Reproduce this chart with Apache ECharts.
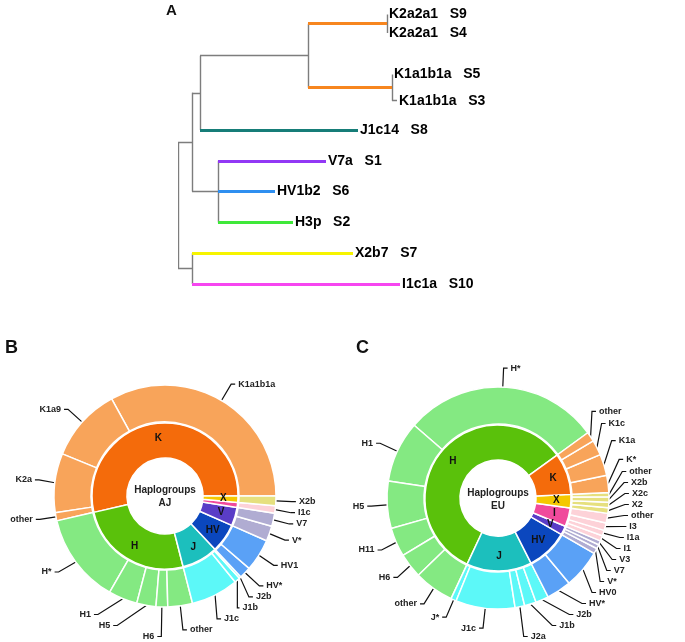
<!DOCTYPE html>
<html>
<head>
<meta charset="utf-8">
<script src="https://cdn.jsdelivr.net/npm/echarts@6/dist/echarts.min.js"></script>
<style>
  html, body { margin: 0; padding: 0; background: #fff; }
  #chart { width: 685px; height: 642px; }
</style>
</head>
<body>
<div id="chart"></div>
<script>
// ---- panel A: tree (node, parent, branch length) ----
const nodeIds      = ['root', 'c1', 'c2', 'c3', 'cK', 'cK2', 'S9', 'S4', 'cK1', 'S5', 'S3', 'S8', 'cV', 'S1', 'S6', 'S2', 'S7', 'S10'];
const nodeParents  = [null, 'root', 'root', 'c1', 'c3', 'cK', 'cK2', 'cK2', 'cK', 'cK1', 'cK1', 'c3', 'c1', 'cV', 'cV', 'cV', 'c2', 'c2'];
const branchLength = [0, 14, 14, 8, 108, 79, 0, 0, 84, 0, 5, 158, 26, 108, 57, 75, 161, 208];
const leafIds      = ['S9', 'S4', 'S5', 'S3', 'S8', 'S1', 'S6', 'S2', 'S7', 'S10'];
const leafHaplo    = ['K2a2a1', 'K2a2a1', 'K1a1b1a', 'K1a1b1a', 'J1c14', 'V7a', 'HV1b2', 'H3p', 'X2b7', 'I1c1a'];
const leafRows     = [0.25, 0.85, 2.2, 3.05, 4, 5, 6, 7, 8, 9];
const branchColors = { cK2: '#f7861f', cK1: '#f7861f', S8: '#167d78', S1: '#9238f5', S6: '#2f8ff0', S2: '#3fe83a', S7: '#f6f400', S10: '#f646f0' };

// ---- panel B: haplogroups AJ (%) ----
const groupsB   = ['K', 'H', 'J', 'HV', 'V', 'I', 'X'];
const subNamesB = [
  ['K1a1b1a', 'K1a9', 'K2a', 'other'],
  ['H*', 'H1', 'H5', 'H6', 'other'],
  ['J1c', 'J1b', 'J2b'],
  ['HV*', 'HV1'],
  ['V*', 'V7'],
  ['I1c'],
  ['X2b']
];
const subValuesB = [
  [33.0, 10.8, 8.6, 1.2],
  [13.1, 4.2, 2.8, 1.7, 3.6],
  [6.9, 0.8, 0.3],
  [1.7, 4.7],
  [2.2, 1.9],
  [1.1],
  [1.4]
];

// ---- panel C: haplogroups EU (%) ----
const groupsC   = ['H', 'J', 'HV', 'V', 'I', 'X', 'K'];
const subNamesC = [
  ['H*', 'H1', 'H5', 'H11', 'H6', 'other'],
  ['J*', 'J1c', 'J2a', 'J1b', 'J2b'],
  ['HV*', 'HV0'],
  ['V*', 'V7', 'V3'],
  ['I1', 'I1a', 'I3', 'other'],
  ['X2', 'X2c', 'X2b', 'other'],
  ['K*', 'K1a', 'K1c', 'other']
];
const subValuesC = [
  [28.6, 8.9, 6.9, 4.2, 3.6, 5.8],
  [0.8, 8.6, 1.4, 1.7, 1.9],
  [3.6, 5.6],
  [0.8, 0.6, 0.6],
  [0.8, 0.8, 1.1, 1.4],
  [0.8, 0.8, 0.8, 0.6],
  [2.5, 3.1, 2.2, 1.4]
];

const innerColor = { K: '#f46b0b', H: '#5ac10b', J: '#1cbfbd', HV: '#0b47be', V: '#5a3dc7', I: '#f04a9c', X: '#f5c800' };
const outerColor = { K: '#f8a45a', H: '#84e982', J: '#5cf8f8', HV: '#5aa1f6', V: '#b0acd2', I: '#fdd2d8', X: '#e6e07e' };

// tree layout: x = distance from root, y = row (internal node = middle of first/last child)
const pos = {};
nodeIds.forEach(function (id, i) {
  const p = nodeParents[i];
  pos[id] = { x: (p ? pos[p].x : 0) + branchLength[i], y: null, kids: [] };
  if (p) pos[p].kids.push(id);
});
leafIds.forEach(function (id, i) { pos[id].y = leafRows[i]; });
function rowOf(id) {
  const n = pos[id];
  if (n.y === null) {
    const ys = n.kids.map(rowOf);
    n.y = (Math.min.apply(null, ys) + Math.max.apply(null, ys)) / 2;
  }
  return n.y;
}
rowOf('root');

const grayLine = { color: '#7d7d7d', width: 1.4, opacity: 1 };
const treeLines = [];
nodeIds.forEach(function (id, i) {
  const n = pos[id];
  const p = nodeParents[i];
  if (n.kids.length) {
    const ys = n.kids.map(function (k) { return pos[k].y; });
    treeLines.push({ coords: [[n.x, Math.min.apply(null, ys)], [n.x, Math.max.apply(null, ys)]], lineStyle: grayLine });
  }
  if (p && branchLength[i] > 0) {
    const c = branchColors[id];
    treeLines.push({ coords: [[pos[p].x, n.y], [n.x, n.y]],
      lineStyle: c ? { color: c, width: 3, opacity: 1 } : grayLine });
  }
});
const leafPoints = leafIds.map(function (id, i) {
  return { value: [pos[id].x, pos[id].y], name: leafHaplo[i] + '   ' + id };
});

function sum(a) { return a.reduce(function (s, v) { return s + v; }, 0); }

function ringSeries(groups, names, values, center, startAngle) {
  const inner = groups.map(function (g, i) {
    return { name: g, value: +sum(values[i]).toFixed(2), itemStyle: { color: innerColor[g] } };
  });
  const outer = [];
  groups.forEach(function (g, i) {
    names[i].forEach(function (n, j) {
      outer.push({ name: n, value: values[i][j], itemStyle: { color: outerColor[g] } });
    });
  });
  return [{
    type: 'pie',
    center: center,
    radius: [38, 73],
    startAngle: startAngle,
    clockwise: false,
    silent: true,
    label: { show: true, position: 'inside', fontSize: 10, fontWeight: 'bold', color: '#111', fontFamily: 'Liberation Sans' },
    labelLine: { show: false },
    itemStyle: { borderColor: '#fff', borderWidth: 1.5 },
    data: inner
  }, {
    type: 'pie',
    center: center,
    radius: [74, 111],
    startAngle: startAngle,
    clockwise: false,
    silent: true,
    minShowLabelAngle: 0,
    label: { show: true, position: 'outside', fontSize: 9, fontWeight: 'bold', color: '#222', overflow: 'none',
      fontFamily: 'Liberation Sans', distanceToLabelLine: 3 },
    labelLine: { show: true, length: 19, length2: 4, smooth: false, lineStyle: { color: '#111', width: 1.2 } },
    itemStyle: { borderColor: '#fff', borderWidth: 1.5 },
    data: outer
  }];
}

const chart = echarts.init(document.getElementById('chart'));

const option = {
  animation: false,
  backgroundColor: '#fff',
  grid: { left: 178, top: 6.8, width: 300, height: 308 },
  xAxis: { type: 'value', min: 0, max: 300, show: false },
  yAxis: { type: 'value', min: 0, max: 10, inverse: true, show: false },
  graphic: [
    { type: 'text', left: 166, top: 3, style: { text: 'A', font: 'bold 15px Liberation Sans', fill: '#111' } },
    { type: 'text', left: 5, top: 339, style: { text: 'B', font: 'bold 18px Liberation Sans', fill: '#111' } },
    { type: 'text', left: 356, top: 339, style: { text: 'C', font: 'bold 18px Liberation Sans', fill: '#111' } },
    { type: 'text', x: 165, y: 497, style: { text: 'Haplogroups\nAJ', font: 'bold 10px Liberation Sans', lineHeight: 13,
      align: 'center', verticalAlign: 'middle', fill: '#222' } },
    { type: 'text', x: 498, y: 500, style: { text: 'Haplogroups\nEU', font: 'bold 10px Liberation Sans', lineHeight: 13,
      align: 'center', verticalAlign: 'middle', fill: '#222' } }
  ],
  series: [{
    type: 'lines',
    coordinateSystem: 'cartesian2d',
    silent: true,
    lineStyle: { opacity: 1 },
    data: treeLines
  }, {
    type: 'scatter',
    symbolSize: 0,
    silent: true,
    itemStyle: { opacity: 1 },
    label: { show: true, position: 'right', distance: 2, formatter: '{b}', fontSize: 14, fontWeight: 'bold',
      color: '#000', opacity: 1, fontFamily: 'Liberation Sans' },
    data: leafPoints
  }]
    .concat(ringSeries(groupsB, subNamesB, subValuesB, [165, 496], 0))
    .concat(ringSeries(groupsC, subNamesC, subValuesC, [498, 498], 36))
};
chart.setOption(option);
</script>
</body>
</html>
